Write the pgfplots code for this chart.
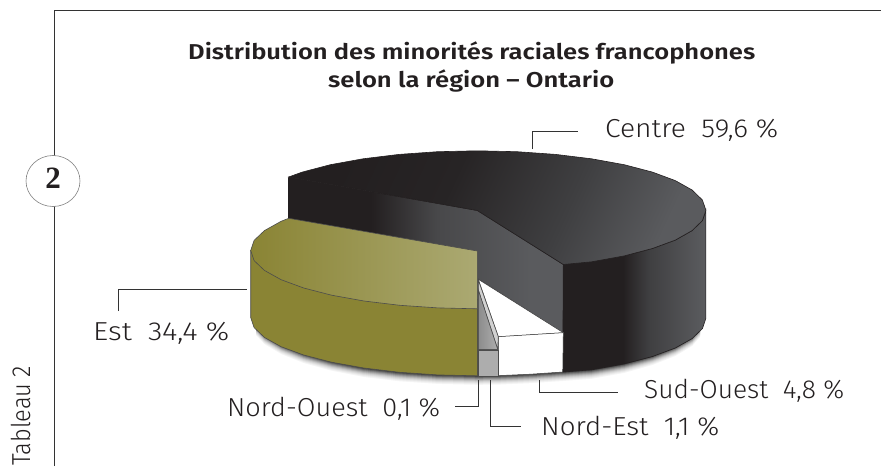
\documentclass[border=0pt]{standalone}
\usepackage{pgfplots}
\pgfplotsset{compat=1.18}
\usepackage{graphicx}
\usepackage{fontspec}
\setmainfont{Fira Sans Light}
\newfontfamily\titlefont{Fira Sans SemiBold}
\newfontfamily\numfont{Liberation Serif}[BoldFont=Liberation Serif Bold]
\definecolor{ink}{HTML}{231F20}
\definecolor{olive}{HTML}{8A8434}
\definecolor{oliveL}{HTML}{ABA972}
\definecolor{dA}{HTML}{272425}
\definecolor{dB}{HTML}{3F3F41}
\definecolor{dC}{HTML}{48484A}
\definecolor{dD}{HTML}{5A5B5E}
\pgfdeclarehorizontalshading{darktop}{100bp}{color(0bp)=(ink); color(25bp)=(ink); color(42bp)=(dA); color(60bp)=(dB); color(75bp)=(dD); color(100bp)=(dD)}
\pgfdeclarehorizontalshading{darkwall}{100bp}{color(0bp)=(ink); color(40bp)=(ink); color(52bp)=(dC); color(69bp)=(dD); color(100bp)=(dD)}
\pgfdeclarehorizontalshading{darkside}{100bp}{color(0bp)=(ink); color(46bp)=(ink); color(55bp)=(dB); color(74bp)=(dD); color(100bp)=(dD)}
\pgfdeclarehorizontalshading{olivetop}{100bp}{color(0bp)=(olive); color(25bp)=(olive); color(75bp)=(oliveL); color(100bp)=(oliveL)}
\pgfplotstableread{
x y
256 326
264.4 335.0
281.1 345.0
303.7 354.0
331.6 361.7
364.0 368.0
399.8 372.3
438.0 374.9
477.3 375.8
498.3 375.6
530.0 374.2
562.7 372.0
591.6 369.8
624.2 363.9
652.4 356.0
675.3 347.0
692.1 337.0
700 328
700 250.0
256 250.0
}\baseoutline
\newcommand{\lab}[2]{\resizebox{#1pt}{\height}{\fontsize{26}{26}\selectfont #2}}
\newcommand{\sep}{\hspace{0.55em}}
\begin{document}
\begin{tikzpicture}
\path[use as bounding box,clip] (0,0) rectangle (881pt,466pt);
\begin{axis}[anchor=south west,at={(0,0)},scale only axis,width=881pt,height=466pt,
  xmin=0,xmax=881,ymin=0,ymax=466,y dir=reverse,hide axis,clip=false,no markers]
% shadow
\addplot[draw=none,fill=black!4,yshift=-9pt] table {\baseoutline} -- cycle;
\addplot[draw=none,fill=black!8,yshift=-8pt] table {\baseoutline} -- cycle;
\addplot[draw=none,fill=black!13,yshift=-7pt] table {\baseoutline} -- cycle;
\addplot[draw=none,fill=black!19,yshift=-6pt] table {\baseoutline} -- cycle;
\addplot[draw=none,fill=black!27,yshift=-5pt] table {\baseoutline} -- cycle;
\addplot[draw=none,fill=black!37,yshift=-4pt] table {\baseoutline} -- cycle;
\addplot[draw=none,fill=black!48,yshift=-3pt] table {\baseoutline} -- cycle;
\addplot[draw=none,fill=black!60,yshift=-2pt] table {\baseoutline} -- cycle;
\addplot[draw=none,fill=black!72,yshift=-1pt] table {\baseoutline} -- cycle;
% Centre: inner wall
\addplot[draw=ink,line width=0.5pt,shading=darkwall] coordinates {(288.7,177) (477.3,210.5) (563.3,264.5) (563.3,333) (478.3,279.3) (478.3,300) (288.7,240)} -- cycle;
% Centre: outer side
\addplot[draw=ink,line width=0.6pt,shading=darkside] coordinates {(563.3,264.5) (591.6,261.8) (624.2,255.9) (652.4,248.5) (675.3,240.1) (692.1,230.6) (702.4,220.6) (705.9,210.3) (705.9,318.3) (702.4,328.6) (692.1,338.6) (675.3,348.0) (652.4,356.5) (624.2,363.9) (591.6,369.8) (562.7,372.0)} -- cycle;
% Centre: top
\addplot[draw=ink,line width=0.6pt,shading=darktop,shading angle=-25] coordinates {(288.7,177) (302.2,172.1) (330.4,164.7) (363.0,158.8) (399.1,154.4) (437.6,151.7) (477.3,150.8) (517.0,151.7) (555.5,154.4) (591.6,158.8) (624.2,164.7) (652.4,172.1) (675.3,180.6) (692.1,190.0) (702.4,200.0) (705.9,210.3) (702.4,220.6) (692.1,230.6) (675.3,240.1) (652.4,248.5) (624.2,255.9) (591.6,261.8) (563.3,264.5) (477.3,210.5)} -- cycle;
% Sud-Ouest
\addplot[draw=black!75,line width=0.5pt,fill=white] coordinates {(478.3,279.3) (563.3,332.7) (498.3,336.7)} -- cycle;
\addplot[draw=black!75,line width=0.5pt,fill=white] coordinates {(498.3,336.7) (563.3,332.7) (562.7,372.0) (530.0,374.2) (498.3,375.6)} -- cycle;
% Nord-Est
\addplot[draw=black!70,line width=0.6pt,fill=black!18] coordinates {(478.3,280) (498.3,336.7) (497.7,349.3) (478.3,290)} -- cycle;
\addplot[draw=black!70,line width=0.6pt,left color=black!45,right color=black!32] coordinates {(478.3,290) (497.7,349.3) (478.3,349.3)} -- cycle;
\addplot[draw=black!70,line width=0.6pt,fill=black!32] coordinates {(478.3,349.8) (497.9,349.8) (497.9,375.8) (478.3,375.8)} -- cycle;
% Est
\addplot[draw=black!70,line width=0.6pt,fill=olive] coordinates {(250.7,250.5) (250.7,317.5) (254.1,327.6) (264.4,337.4) (281.1,346.7) (303.7,355.0) (331.6,362.2) (364.0,368.0) (399.8,372.3) (438.0,374.9) (477.3,375.8) (477.3,308.8)} -- cycle;
\addplot[draw=black!70,line width=0.6pt,shading=olivetop] coordinates {(288.7,218.3) (477.3,251) (477.3,308.8) (438.0,307.9) (399.8,305.3) (364.0,301.0) (331.6,295.2) (303.7,288.0) (281.1,279.7) (264.4,270.4) (254.1,260.6) (250.7,250.5) (254.1,240.4) (264.4,230.6) (281.1,221.3)} -- cycle;
% frame
\addplot[color=black!80,line width=0.9pt] coordinates {(54.3,466) (54.3,10) (881,10)};
% leaders
\addplot[color=black!80,line width=0.7pt] coordinates {(532,149) (532,131) (578,131)};
\addplot[color=black!80,line width=0.7pt] coordinates {(118.3,311) (118.3,289.3) (246.7,289.3)};
\addplot[color=black!80,line width=0.7pt] coordinates {(478.3,380) (478.3,406.3) (455,406.3)};
\addplot[color=black!80,line width=0.7pt] coordinates {(490.3,380) (490.3,426) (520.7,426)};
\addplot[color=black!80,line width=0.7pt] coordinates {(539.3,380) (539.3,392) (618.3,392)};
% badge
\draw[black!50,line width=0.6pt,fill=white] (axis cs:53,181) ellipse [x radius=27pt,y radius=25.5pt];
\node[text=ink,inner sep=0pt,anchor=base] at (axis cs:53,188.5) {\numfont\bfseries\fontsize{31}{31}\selectfont 2};
% title
\node[text=ink,inner sep=0pt,anchor=base west] at (axis cs:188,59.5) {\resizebox{567pt}{\height}{\titlefont\fontsize{21.5}{21.5}\selectfont Distribution des minorités raciales francophones}};
\node[text=ink,inner sep=0pt,anchor=base west] at (axis cs:328,87) {\resizebox{286pt}{\height}{\titlefont\fontsize{21.5}{21.5}\selectfont selon la région – Ontario}};
% labels
\node[text=ink,inner sep=0pt,anchor=base west] at (axis cs:605,137) {\lab{173}{Centre\sep 59,6 \%}};
\node[text=ink,inner sep=0pt,anchor=base west] at (axis cs:93,340) {\lab{136}{Est\sep 34,4 \%}};
\node[text=ink,inner sep=0pt,anchor=base west] at (axis cs:227,416.7) {\lab{213}{Nord-Ouest\sep 0,1 \%}};
\node[text=ink,inner sep=0pt,anchor=base west] at (axis cs:541,435) {\lab{178}{Nord-Est\sep 1,1 \%}};
\node[text=ink,inner sep=0pt,anchor=base west] at (axis cs:644,398) {\lab{200}{Sud-Ouest\sep 4,8 \%}};
\node[text=ink,inner sep=0pt,anchor=base west,rotate=90] at (axis cs:30,466) {\resizebox{100pt}{\height}{\fontsize{26}{26}\selectfont Tableau 2}};
\end{axis}
\end{tikzpicture}
\end{document}
